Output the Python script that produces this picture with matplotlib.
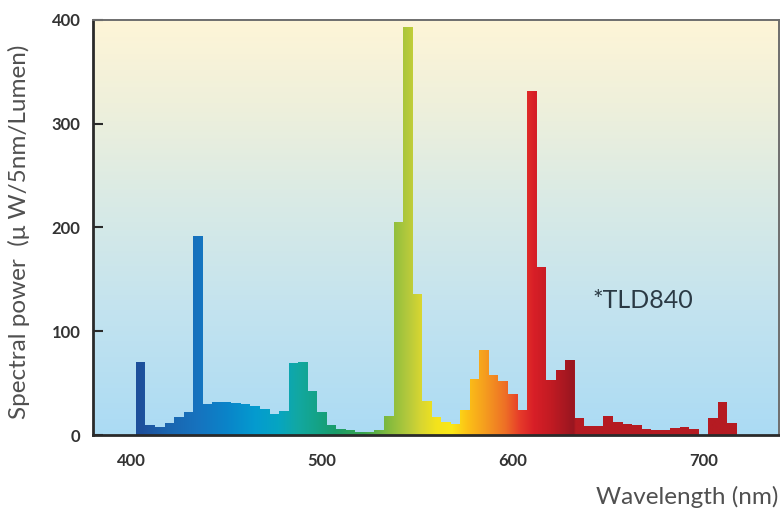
import numpy as np
import matplotlib
matplotlib.use("Agg")
import matplotlib.pyplot as plt
from matplotlib.colors import to_rgb
from matplotlib.path import Path
from matplotlib.patches import PathPatch

# ---------------- data ----------------
wavelengths = list(range(405, 720, 5))
power = [70, 10, 8, 12, 17, 22, 192, 30, 32, 32, 31, 30, 28, 25, 20, 23,
         69, 70, 42, 22, 10, 6, 5, 3, 3, 5, 18, 205, 393, 136, 33, 17, 13, 11,
         24, 54, 82, 58, 52, 40, 24, 332, 162, 53, 63, 72, 16, 9, 9, 18, 13,
         11, 10, 6, 5, 5, 7, 8, 6, 0, 16, 32, 12]
x_ticks = [400, 500, 600, 700]
y_ticks = [0, 100, 200, 300, 400]
lamp_label = "*TLD840"
x_title = "Wavelength (nm)"
y_title = "Spectral power  (\u03bc W/5nm/Lumen)"

# ---------------- styles ----------------
spec_stops = [
    (400, "#1d4d98"), (406, "#1e519d"), (420, "#1a66b0"), (435, "#1673bf"),
    (450, "#0a84c9"), (465, "#049bcf"), (477, "#06a5c2"), (487, "#12a8a3"),
    (497, "#14a388"), (507, "#1a9c6a"), (522, "#3aa54e"), (535, "#84bb3e"),
    (545, "#b4c93c"), (552, "#d8d631"), (560, "#f3e31c"), (568, "#fbe817"),
    (576, "#fcc216"), (586, "#f59b1f"), (596, "#ee7026"), (604, "#e63a2a"),
    (611, "#d81f27"), (620, "#c21b23"), (632, "#981620"), (633, "#b51b22"),
    (740, "#b51b22"),
]
sw = np.array([s[0] for s in spec_stops], dtype=float)
sc = np.array([to_rgb(s[1]) for s in spec_stops])

def spec_color(w):
    return np.stack([np.interp(w, sw, sc[:, i]) for i in range(3)], axis=-1)

bg_stops = [(0.0, "#abdbf4"), (0.3, "#c3e3ef"), (0.55, "#d8eae6"),
            (0.8, "#eff0db"), (1.0, "#fef5d7")]

plt.rcParams['font.family'] = ['Lato', 'DejaVu Sans']

fig = plt.figure(figsize=(7.8, 5.13), dpi=100)
fig.patch.set_facecolor("white")
ax = fig.add_axes([93 / 780, 78 / 513, 686 / 780, 415 / 513])

XMIN, XMAX = 380.0, 739.5
YMIN, YMAX = 0, 400

# background gradient
yy = np.linspace(0, 1, 256)
bpos = np.array([b[0] for b in bg_stops])
bcol = np.array([to_rgb(b[1]) for b in bg_stops])
bg = np.stack([np.interp(yy, bpos, bcol[:, i]) for i in range(3)], axis=-1)
bg = bg[::-1][:, None, :]
ax.imshow(bg, extent=(0, 1, 0, 1), transform=ax.transAxes, aspect='auto',
          zorder=0, interpolation='bilinear')

# bars (flat colour per bar as base)
bar_cols = [spec_color(w) for w in wavelengths]
bars = ax.bar(wavelengths, power, width=5, color=bar_cols, linewidth=0,
              zorder=2)

# smooth spectral gradient clipped to the bars
paths = [b.get_path().transformed(b.get_patch_transform()) for b in bars]
compound = Path.make_compound_path(*paths)
clip = PathPatch(compound, transform=ax.transData, facecolor='none',
                 edgecolor='none')
ax.add_patch(clip)
gx = np.linspace(XMIN, XMAX, 1400)
grad = spec_color(gx)[None, :, :]
im = ax.imshow(grad, extent=(XMIN, XMAX, YMIN, YMAX), aspect='auto',
               zorder=3, interpolation='bilinear')
im.set_clip_path(clip)

ax.set_xlim(XMIN, XMAX)
ax.set_ylim(YMIN, YMAX)

# axes styling
for side in ['left', 'bottom']:
    ax.spines[side].set_color('#2a2a2a')
    ax.spines[side].set_linewidth(2.0)
for side in ['top', 'right']:
    ax.spines[side].set_color('#6e6e6e')
    ax.spines[side].set_linewidth(1.4)
for s in ax.spines.values():
    s.set_zorder(5)

ax.set_xticks(x_ticks)
ax.set_xticklabels([str(t) for t in x_ticks])
ax.set_yticks(y_ticks)
ax.set_yticklabels([str(t) for t in y_ticks])
ax.tick_params(axis='x', length=0, pad=13, labelsize=12, labelcolor='#333333')
ax.tick_params(axis='y', direction='in', length=7, width=1.5, color='#2a2a2a',
               pad=9, labelsize=12, labelcolor='#333333')
for lab in ax.get_xticklabels() + ax.get_yticklabels():
    lab.set_fontweight('bold')

ax.set_ylabel(y_title, fontsize=17.5, color='#505050', fontweight='normal')
ax.yaxis.label.set_va('center')
ax.yaxis.set_label_coords((19 - 93) / 686, (435 - 232) / 415)

fig.text(778 / 780, 1 - 497 / 513, x_title, ha='right', va='center',
         fontsize=17.5, color='#505050', fontweight='normal')

ax.text((592 - 93) / 686, (435 - 300) / 415, lamp_label, transform=ax.transAxes,
        ha='left', va='center', fontsize=18, color='#2b3a44', zorder=6)

fig.savefig("out.png", dpi=100)
